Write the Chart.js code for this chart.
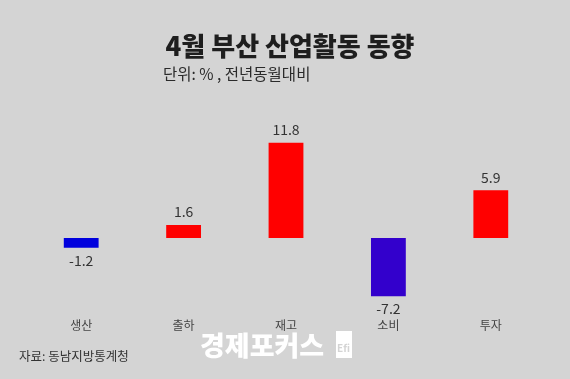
<!DOCTYPE html>
<html><head><meta charset="utf-8">
<script src="https://cdn.jsdelivr.net/npm/chart.js@4/dist/chart.umd.min.js"></script>
<style>html,body{margin:0;padding:0;background:#d4d4d4;}canvas{display:block;}</style>
</head><body>
<canvas id="c" width="570" height="379"></canvas>
<script>
const categories = ['생산','출하','재고','소비','투자'];
const values = [-1.2, 1.6, 11.8, -7.2, 5.9];
const barColors = ['#0000dd','#ff0000','#ff0000','#3300cc','#ff0000'];
const titleText = '4월 부산 산업활동 동향';
const subtitleText = '단위: % , 전년동월대비';
const sourceText = '자료: 동남지방통계청';
const FONT = '"Noto Sans CJK KR", "Noto Sans", sans-serif';

const deco = {
  id: 'deco',
  beforeDraw(chart) {
    const c = chart.ctx;
    c.save();
    c.fillStyle = '#d4d4d4';
    c.fillRect(0, 0, chart.width, chart.height);
    c.restore();
  },
  afterDraw(chart) {
    const c = chart.ctx;
    c.save();
    c.textBaseline = 'middle';
    c.fillStyle = '#1e1e1e';
    c.font = '900 26px ' + FONT;
    c.textAlign = 'center';
    c.fillText(titleText, 290, 46);
    c.fillStyle = '#2a2a2a';
    c.font = '15.5px ' + FONT;
    c.textAlign = 'left';
    c.fillText(subtitleText, 163, 74);
    c.font = '12.5px ' + FONT;
    c.fillStyle = '#333';
    c.fillText(sourceText, 19, 356);
    // watermark
    c.fillStyle = '#ffffff';
    c.font = '900 27px ' + FONT;
    c.fillText('경제포커스', 200, 346);
    c.fillRect(336, 331, 16, 27);
    c.fillStyle = '#d4d4d4';
    c.font = 'bold 10px ' + FONT;
    c.fillText('Efi', 337, 348);
    // value labels
    const meta = chart.getDatasetMeta(0);
    c.fillStyle = '#333';
    c.font = '14px ' + FONT;
    c.textAlign = 'center';
    meta.data.forEach((bar, i) => {
      const v = values[i];
      const txt = v.toFixed(1);
      if (v >= 0) c.fillText(txt, bar.x, bar.y - 13);
      else c.fillText(txt, bar.x, bar.y + 13);
    });
    c.restore();
  }
};

new Chart(document.getElementById('c'), {
  type: 'bar',
  data: {
    labels: categories,
    datasets: [{
      data: values,
      backgroundColor: barColors,
      borderWidth: 0,
      barPercentage: 0.34,
      categoryPercentage: 1.0
    }]
  },
  options: {
    responsive: false,
    animation: false,
    devicePixelRatio: 1,
    layout: { padding: { top: 133, left: 30, right: 28, bottom: 30 } },
    plugins: { legend: { display: false }, title: { display: false }, tooltip: { enabled: false } },
    scales: {
      y: { display: false, min: -8, max: 13 },
      x: {
        grid: { display: false, drawTicks: false },
        border: { display: false },
        ticks: { color: '#444', font: { size: 12, family: FONT }, padding: 16 }
      }
    }
  },
  plugins: [deco]
});
</script>
</body></html>
